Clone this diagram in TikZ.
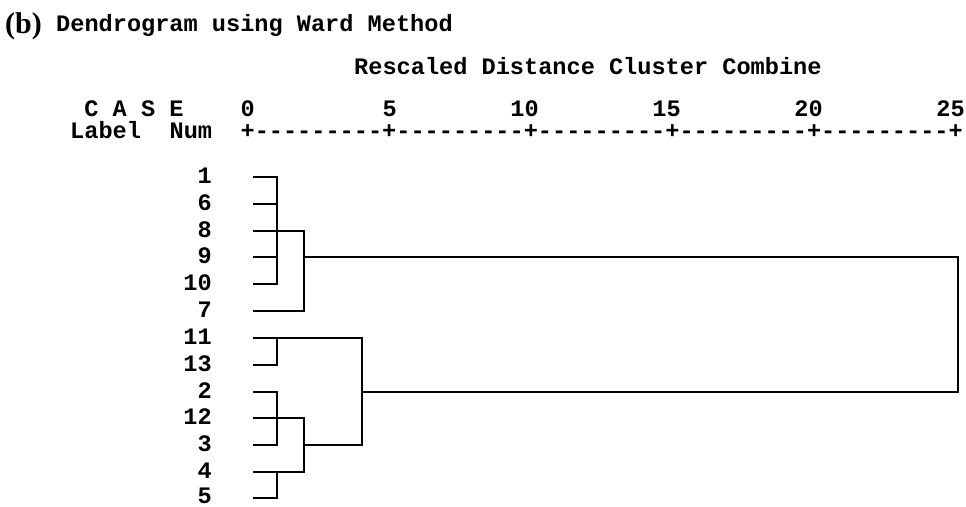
\documentclass[tikz,border=0pt]{standalone}
\usepackage{fontspec}
\newfontfamily\monob{Liberation Mono}[BoldFont={Liberation Mono Bold}]
\newfontfamily\serifb{Liberation Serif}
\def\dd{-\kern0pt}
\def\seg{\dd\dd\dd\dd\dd\dd\dd\dd\dd+}
\begin{document}
\begin{tikzpicture}[x=1pt,y=-1pt,
  txt/.style={inner sep=0pt, anchor=base west, font=\monob\bfseries\fontsize{23.6}{28}\selectfont},
  lab/.style={inner sep=0pt, anchor=base east, font=\monob\bfseries\fontsize{23.6}{28}\selectfont},
  link/.style={line width=2pt, line cap=rect, line join=miter}]
\useasboundingbox (0,0) rectangle (966,506);
% title
\node[inner sep=0pt, anchor=base west, font=\serifb\bfseries\fontsize{30}{34}\selectfont] (tag) at (5,33) {(b)};
\node[txt] (title) at (56,31) {Dendrogram using Ward Method};
\node[txt] (resc) at (354,74) {Rescaled Distance Cluster Combine};
% header
\node[txt] (case) at (84.2,116) {C A S E};
\node[txt] (t0) at (240.4,116) {0};
\node[txt] (t5) at (382.4,116) {5};
\node[txt] (t10) at (510.2,116) {10};
\node[txt] (t15) at (652.2,116) {15};
\node[txt] (t20) at (794.2,116) {20};
\node[txt] (t25) at (936.2,116) {25};
\node[txt] (label) at (70,138) {Label};
\node[txt] (num) at (169.4,138) {Num};
\node[txt] (axis) at (240.4,138) {+\seg\seg\seg\seg\seg};
% row labels
\foreach \k/\t/\yy/\bl in {0/1/177/183.5,1/6/204/210.5,2/8/231/237.5,3/9/257/263.5,4/10/284/290.5,5/7/311/317.5,6/11/338/344.5,7/13/365/371.5,8/2/392/398.5,9/12/418/424.5,10/3/445/451.5,11/4/472/478.5,12/5/498/503.2}{
  \node[lab] (r\k) at (212,\bl) {\t};
  \coordinate (s\k) at (254,\yy);
}
% x positions of joins
\def\xa{277}\def\xb{304}\def\xc{362}\def\xd{958}
% upper cluster
\draw[link] (s0) -- (s0 -| \xa,0) -- (s4 -| \xa,0) -- (s4);
\draw[link] (s1) -- (s1 -| \xa,0);
\draw[link] (s3) -- (s3 -| \xa,0);
\draw[link] (s2) -- (s2 -| \xb,0) -- (s5 -| \xb,0) -- (s5);
\draw[link] (s3 -| \xb,0) -- (s3 -| \xd,0) -- (s8 -| \xd,0) -- (s8 -| \xc,0);
% lower cluster
\draw[link] (s7) -- (s7 -| \xa,0) -- (s6 -| \xa,0);
\draw[link] (s6) -- (s6 -| \xc,0) -- (s10 -| \xc,0) -- (s10 -| \xb,0);
\draw[link] (s8) -- (s8 -| \xa,0) -- (s10 -| \xa,0) -- (s10);
\draw[link] (s9) -- (s9 -| \xb,0) -- (s11 -| \xb,0) -- (s11);
\draw[link] (s12) -- (s12 -| \xa,0) -- (s11 -| \xa,0);
\end{tikzpicture}
\end{document}
